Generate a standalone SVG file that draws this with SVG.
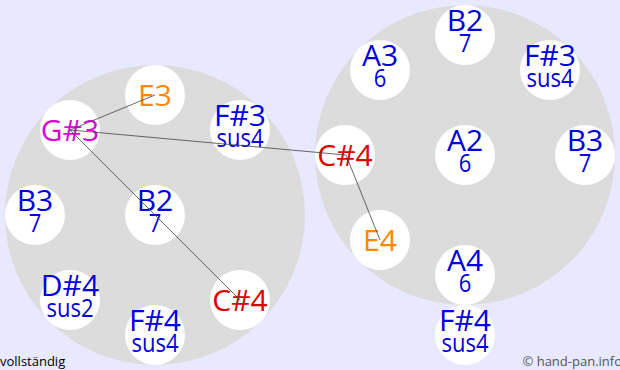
<svg xmlns="http://www.w3.org/2000/svg" width="620" height="370" viewBox="0 0 620 370">
<style>
.pan{fill:#dcdcdc}
.pad{fill:#ffffff}
text{font-family:"Open Sans","DejaVu Sans",sans-serif;text-anchor:middle}
.m{font-size:30px}
.s{font-size:25px}
.b{fill:#0000dd}
.o{fill:#ff8800}
.r{fill:#dd0000}
.p{fill:#dd00dd}
.c{stroke:#444;stroke-width:0.8;fill:none}
.ft{font-size:13px}
</style>
<rect width="620" height="370" fill="#e8e8ff"/>
<circle class="pan" cx="155" cy="215" r="150"/>
<circle class="pan" cx="465" cy="155" r="150"/>
<g id="L-E3"><circle class="pad" cx="155" cy="95" r="30"/><text class="m o" x="155" y="106">E3</text></g>
<g id="L-Gs3"><circle class="pad" cx="70" cy="130" r="30"/><text class="m p" x="70" y="141">G#3</text></g>
<g id="L-Fs3"><circle class="pad" cx="240" cy="130" r="30"/><text class="m b" x="240" y="126">F#3</text><text class="s b" transform="translate(240,147) scale(0.88,1)">sus4</text></g>
<g id="L-B3"><circle class="pad" cx="35" cy="215" r="30"/><text class="m b" x="35" y="211">B3</text><text class="s b" transform="translate(35,232) scale(0.88,1)">7</text></g>
<g id="L-B2"><circle class="pad" cx="155" cy="215" r="30"/><text class="m b" x="155" y="211">B2</text><text class="s b" transform="translate(155,232) scale(0.88,1)">7</text></g>
<g id="L-Ds4"><circle class="pad" cx="70" cy="300" r="30"/><text class="m b" x="70" y="296">D#4</text><text class="s b" transform="translate(70,317) scale(0.88,1)">sus2</text></g>
<g id="L-Cs4"><circle class="pad" cx="240" cy="300" r="30"/><text class="m r" x="240" y="311">C#4</text></g>
<g id="L-Fs4"><circle class="pad" cx="155" cy="335" r="30"/><text class="m b" x="155" y="331">F#4</text><text class="s b" transform="translate(155,352) scale(0.88,1)">sus4</text></g>
<g id="R-B2"><circle class="pad" cx="465" cy="35" r="30"/><text class="m b" x="465" y="31">B2</text><text class="s b" transform="translate(465,52) scale(0.88,1)">7</text></g>
<g id="R-A3"><circle class="pad" cx="380" cy="70" r="30"/><text class="m b" x="380" y="66">A3</text><text class="s b" transform="translate(380,87) scale(0.88,1)">6</text></g>
<g id="R-Fs3"><circle class="pad" cx="550" cy="70" r="30"/><text class="m b" x="550" y="66">F#3</text><text class="s b" transform="translate(550,87) scale(0.88,1)">sus4</text></g>
<g id="R-Cs4"><circle class="pad" cx="345" cy="155" r="30"/><text class="m r" x="345" y="166">C#4</text></g>
<g id="R-A2"><circle class="pad" cx="465" cy="155" r="30"/><text class="m b" x="465" y="151">A2</text><text class="s b" transform="translate(465,172) scale(0.88,1)">6</text></g>
<g id="R-B3"><circle class="pad" cx="585" cy="155" r="30"/><text class="m b" x="585" y="151">B3</text><text class="s b" transform="translate(585,172) scale(0.88,1)">7</text></g>
<g id="R-E4"><circle class="pad" cx="380" cy="240" r="30"/><text class="m o" x="380" y="251">E4</text></g>
<g id="R-A4"><circle class="pad" cx="465" cy="275" r="30"/><text class="m b" x="465" y="271">A4</text><text class="s b" transform="translate(465,292) scale(0.88,1)">6</text></g>
<g id="R-Fs4"><circle class="pad" cx="465" cy="335" r="30"/><text class="m b" x="465" y="331">F#4</text><text class="s b" transform="translate(465,352) scale(0.88,1)">sus4</text></g>
<g id="connectors">
<line class="c" x1="70" y1="130" x2="155" y2="95"/>
<line class="c" x1="70" y1="130" x2="346" y2="155"/>
<line class="c" x1="70" y1="130" x2="240" y2="300"/>
<line class="c" x1="346" y1="155" x2="380" y2="240"/>
</g>
<text class="ft" x="0" y="366" style="text-anchor:start" fill="#000">vollständig</text>
<text class="ft" x="622" y="366" style="text-anchor:end" fill="#555">© hand-pan.info</text>
</svg>
